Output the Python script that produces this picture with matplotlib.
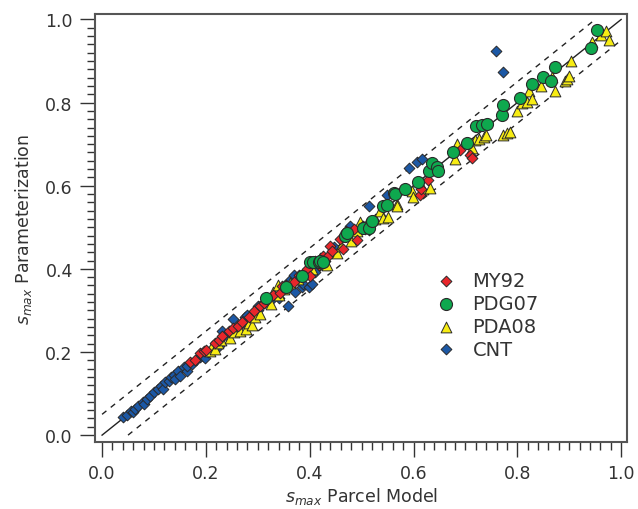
import numpy as np
import matplotlib
matplotlib.use("Agg")
import matplotlib.pyplot as plt
from matplotlib.ticker import MultipleLocator

# values (parcel model, parameterization)
cnt_x = [0.040, 0.048, 0.055, 0.060, 0.064, 0.070, 0.078, 0.080, 0.086, 0.092,
         0.100, 0.107, 0.113, 0.118, 0.121, 0.128, 0.132, 0.139, 0.141, 0.147,
         0.150, 0.157, 0.163, 0.164, 0.173, 0.180, 0.189, 0.195, 0.198, 0.205,
         0.220, 0.225, 0.231, 0.240, 0.245, 0.253, 0.262, 0.268, 0.275, 0.280,
         0.290, 0.300, 0.300, 0.312, 0.320, 0.330, 0.340, 0.359, 0.360, 0.372,
         0.369, 0.385, 0.388, 0.398, 0.404, 0.410, 0.420, 0.430, 0.446, 0.477,
         0.497, 0.515, 0.515, 0.549, 0.592, 0.606, 0.617, 0.759, 0.773]
cnt_y = [0.043, 0.048, 0.059, 0.055, 0.063, 0.071, 0.080, 0.075, 0.087, 0.095,
         0.103, 0.112, 0.119, 0.111, 0.127, 0.131, 0.139, 0.144, 0.135, 0.155,
         0.143, 0.163, 0.155, 0.167, 0.171, 0.180, 0.187, 0.190, 0.185, 0.200,
         0.218, 0.215, 0.251, 0.238, 0.245, 0.279, 0.262, 0.268, 0.285, 0.290,
         0.292, 0.300, 0.310, 0.318, 0.325, 0.330, 0.330, 0.311, 0.370, 0.344,
         0.385, 0.356, 0.364, 0.356, 0.364, 0.392, 0.410, 0.420, 0.452, 0.504,
         0.498, 0.551, 0.494, 0.578, 0.642, 0.658, 0.665, 0.925, 0.873]

my92_x = [0.170, 0.179, 0.189, 0.197, 0.200, 0.218, 0.226, 0.232, 0.245, 0.252,
          0.261, 0.270, 0.284, 0.293, 0.304, 0.312, 0.329, 0.343, 0.346, 0.355,
          0.369, 0.380, 0.394, 0.401, 0.410, 0.417, 0.425, 0.436, 0.439, 0.443,
          0.459, 0.465, 0.470, 0.486, 0.492, 0.502, 0.507, 0.613, 0.614, 0.627,
          0.689, 0.708, 0.712]
my92_y = [0.175, 0.181, 0.197, 0.203, 0.205, 0.222, 0.230, 0.239, 0.251, 0.258,
          0.262, 0.272, 0.283, 0.299, 0.311, 0.318, 0.336, 0.342, 0.358, 0.362,
          0.368, 0.385, 0.400, 0.382, 0.418, 0.409, 0.430, 0.430, 0.456, 0.444,
          0.472, 0.448, 0.490, 0.496, 0.470, 0.502, 0.496, 0.578, 0.591, 0.615,
          0.685, 0.674, 0.666]

pdg07_x = [0.315, 0.354, 0.385, 0.401, 0.406, 0.417, 0.419, 0.425, 0.468, 0.471,
           0.502, 0.515, 0.520, 0.541, 0.549, 0.563, 0.565, 0.583, 0.609, 0.630,
           0.636, 0.645, 0.648, 0.676, 0.703, 0.721, 0.731, 0.741, 0.771, 0.772,
           0.805, 0.828, 0.850, 0.864, 0.873, 0.942, 0.954]
pdg07_y = [0.329, 0.356, 0.384, 0.417, 0.417, 0.416, 0.420, 0.416, 0.480, 0.486,
           0.498, 0.498, 0.514, 0.552, 0.554, 0.583, 0.580, 0.592, 0.608, 0.636,
           0.655, 0.645, 0.636, 0.682, 0.702, 0.743, 0.747, 0.749, 0.771, 0.795,
           0.811, 0.845, 0.861, 0.853, 0.885, 0.932, 0.974]

pda08_x = [0.208, 0.211, 0.218, 0.224, 0.230, 0.247, 0.255, 0.266, 0.277, 0.283,
           0.288, 0.295, 0.304, 0.325, 0.330, 0.338, 0.340, 0.350, 0.362, 0.378,
           0.391, 0.405, 0.420, 0.433, 0.453, 0.460, 0.479, 0.492, 0.496, 0.510,
           0.525, 0.536, 0.541, 0.550, 0.568, 0.569, 0.597, 0.599, 0.619, 0.632,
           0.680, 0.683, 0.712, 0.719, 0.727, 0.735, 0.740, 0.773, 0.780, 0.786,
           0.800, 0.809, 0.818, 0.823, 0.828, 0.845, 0.867, 0.873, 0.892, 0.895,
           0.900, 0.904, 0.943, 0.961, 0.970, 0.977]
pda08_y = [0.203, 0.215, 0.207, 0.222, 0.228, 0.233, 0.248, 0.251, 0.255, 0.270,
           0.265, 0.285, 0.291, 0.315, 0.345, 0.360, 0.337, 0.352, 0.365, 0.376,
           0.392, 0.400, 0.425, 0.409, 0.438, 0.455, 0.468, 0.492, 0.512, 0.510,
           0.520, 0.540, 0.522, 0.524, 0.556, 0.552, 0.588, 0.572, 0.592, 0.594,
           0.665, 0.701, 0.690, 0.710, 0.713, 0.717, 0.721, 0.722, 0.727, 0.730,
           0.779, 0.799, 0.801, 0.828, 0.809, 0.841, 0.861, 0.828, 0.852, 0.857,
           0.865, 0.900, 0.946, 0.962, 0.972, 0.950]

labels = ["MY92", "PDG07", "PDA08", "CNT"]

plt.rcParams["font.family"] = ["DejaVu Sans"]
plt.rcParams["mathtext.fontset"] = "dejavusans"

fig = plt.figure(figsize=(6.38, 5.10), dpi=100)
ax = fig.add_axes([0.149, 0.131, 0.834, 0.840])

edge = "#2a2a2a"
ax.plot([0, 1], [0, 1], color="#222222", lw=1.0, zorder=1)
ax.plot([0, 0.95], [0.05, 1.0], color="#222222", lw=1.0, ls=(0, (4, 4)), zorder=1)
ax.plot([0.05, 1.0], [0, 0.95], color="#222222", lw=1.0, ls=(0, (4, 4)), zorder=1)

h_cnt = ax.scatter(cnt_x, cnt_y, marker="D", s=30, c="#1c58a5",
                   edgecolors=edge, linewidths=0.7, zorder=2)
h_pda = ax.scatter(pda08_x, pda08_y, marker="^", s=60, c="#f7ec13",
                   edgecolors=edge, linewidths=0.7, zorder=3)
h_my = ax.scatter(my92_x, my92_y, marker="D", s=30, c="#e8262b",
                  edgecolors=edge, linewidths=0.7, zorder=4)
h_pdg = ax.scatter(pdg07_x, pdg07_y, marker="o", s=75, c="#0ea84e",
                   edgecolors=edge, linewidths=0.8, zorder=5)

leg = ax.legend([h_my, h_pdg, h_pda, h_cnt], labels, loc="upper left",
                bbox_to_anchor=(0.609, 0.418), frameon=False, fontsize=14,
                handletextpad=0.35, labelspacing=0.2, borderaxespad=0)
for t in leg.get_texts():
    t.set_color("#333333")

ax.set_xlim(-0.0135, 1.0116)
ax.set_ylim(-0.017, 1.0137)
ax.xaxis.set_major_locator(MultipleLocator(0.2))
ax.xaxis.set_minor_locator(MultipleLocator(0.02))
ax.yaxis.set_major_locator(MultipleLocator(0.2))
ax.yaxis.set_minor_locator(MultipleLocator(0.02))
ax.xaxis.set_major_formatter(lambda v, p: f"{v:.1f}")
ax.yaxis.set_major_formatter(lambda v, p: f"{v:.1f}")

for s in ax.spines.values():
    s.set_color("#555555")
    s.set_linewidth(1.5)
ax.tick_params(which="both", direction="out", color="#333333", width=1.0,
               labelsize=12.5, labelcolor="#333333", top=False, right=False)
ax.tick_params(which="major", length=11, pad=5)
ax.tick_params(which="minor", length=6)

ax.set_xlabel(r"$s_{max}$ Parcel Model", fontsize=12.5, color="#333333", labelpad=2)
ax.set_ylabel(r"$s_{max}$ Parameterization", fontsize=12.5, color="#333333", labelpad=8)

fig.savefig("out.png", dpi=100)
